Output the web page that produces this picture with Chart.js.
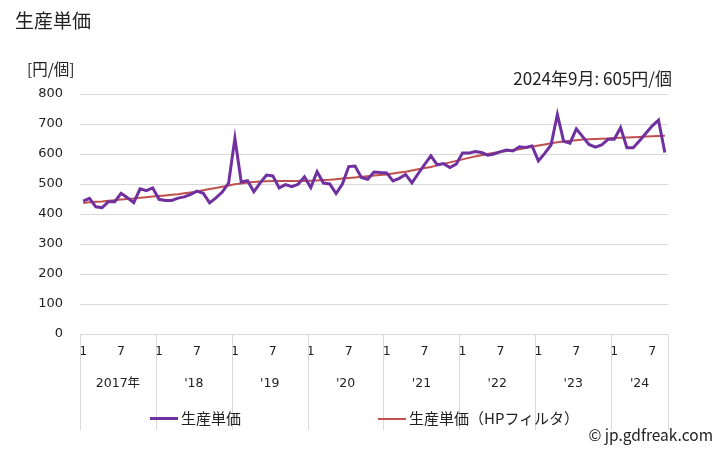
<!DOCTYPE html>
<html><head><meta charset="utf-8">
<script src="https://cdn.jsdelivr.net/npm/chart.js@4"></script>
<style>
body{margin:0;background:#fff;}
#wrap{position:relative;width:728px;height:450px;font-family:"Noto Sans CJK JP","Noto Sans",sans-serif;color:#222;}
canvas{position:absolute;left:0;top:0;}
.t{position:absolute;white-space:nowrap;line-height:1;}
.lg{position:absolute;height:3px;}
</style></head><body>
<div id="wrap">
<canvas id="c" width="728" height="450"></canvas>
<div class="t" style="left:15px;top:10px;font-size:19px;">生産単価</div>
<div class="t" style="left:27px;top:61px;font-size:15.5px;">[円/個]</div>
<div class="t" style="right:56px;top:69px;font-size:17px;">2024年9月: 605円/個</div>
<div class="lg" style="left:150px;top:417px;width:28px;background:#7030a0;"></div>
<div class="t" style="left:181px;top:410px;font-size:15px;">生産単価</div>
<div class="lg" style="left:378px;top:418px;width:28px;height:2px;background:#c0504d;"></div>
<div class="t" style="left:409px;top:410px;font-size:15px;">生産単価（HPフィルタ）</div>
<div class="t" style="right:15px;top:427px;font-size:15.5px;">© jp.gdfreak.com</div>
</div>
<script>
const yearLabels = ["2017年","'18","'19","'20","'21","'22","'23","'24"];
const monthLabels = [];
for (let y = 2017; y <= 2024; y++) {
  for (let m = 1; m <= 12; m++) {
    if (y === 2024 && m > 9) break;
    monthLabels.push(y + '/' + m);
  }
}
const unitPrice = [443,452,424,421,441,441,469,454,438,484,478,487,
  449,445,445,453,457,465,476,469,437,454,473,503,
  652,507,511,474,504,530,527,487,498,491,499,524,
  488,541,503,500,468,500,558,560,522,516,540,538,
  537,510,519,532,504,535,565,594,564,568,555,566,
  603,603,608,605,596,600,608,613,610,624,622,627,
  577,602,630,732,642,636,684,658,632,623,630,649,
  649,688,621,621,644,669,694,713,605];
const hpTrend = [437,439,441,442,444,446,448,450,452,454,456,458,
  460,462,464,466,469,472,475,479,483,487,491,495,
  499,502,505,507,508,509,510,510,510,510,510,510,
  511,512,513,514,516,518,520,522,524,526,528,530,
  532,535,538,541,545,549,553,557,562,567,572,577,
  582,587,592,596,600,604,607,610,613,616,620,624,
  628,632,636,639,642,644,646,648,649,650,651,652,
  653,654,655,656,657,658,659,660,661];
const yTicks = [0,100,200,300,400,500,600,700,800];

const FONT = '"Noto Sans CJK JP","Noto Sans",sans-serif';
const NUMFONT = '"DejaVu Sans","Noto Sans CJK JP",sans-serif';

const yearPlugin = {
  id: 'years',
  afterDraw(chart) {
    const xs = chart.scales.x, ca = chart.chartArea, ctx = chart.ctx;
    const n = monthLabels.length;
    const bounds = [ca.left];
    for (let i = 12; i < n; i += 12) {
      bounds.push((xs.getPixelForValue(i - 1) + xs.getPixelForValue(i)) / 2);
    }
    bounds.push(ca.right);
    ctx.save();
    ctx.strokeStyle = '#d9d9d9';
    ctx.lineWidth = 1;
    bounds.forEach(b => {
      const x = Math.round(b) + 0.5;
      ctx.beginPath(); ctx.moveTo(x, ca.bottom); ctx.lineTo(x, 430); ctx.stroke();
    });
    ctx.fillStyle = '#222';
    ctx.font = '12.5px ' + NUMFONT;
    ctx.textAlign = 'center';
    ctx.textBaseline = 'middle';
    yearLabels.forEach((t, k) => {
      ctx.fillText(t, (bounds[k] + bounds[k + 1]) / 2, 384);
    });
    ctx.restore();
  }
};

new Chart(document.getElementById('c'), {
  type: 'line',
  data: {
    labels: monthLabels,
    datasets: [
      { label: '生産単価', data: unitPrice, borderColor: '#7030a0', borderWidth: 3, pointRadius: 0, tension: 0, fill: false },
      { label: '生産単価（HPフィルタ）', data: hpTrend, borderColor: '#c0504d', borderWidth: 2, pointRadius: 0, tension: 0, fill: false }
    ]
  },
  options: {
    responsive: false, animation: false, devicePixelRatio: 1,
    layout: { padding: { top: 94, bottom: 20, left: 0, right: 60 } },
    plugins: { legend: { display: false }, tooltip: { enabled: false } },
    scales: {
      x: {
        offset: true,
        grid: { display: false, drawTicks: false },
        border: { display: false },
        afterFit: s => { s.height = 96; },
        ticks: {
          autoSkip: false, maxRotation: 0, minRotation: 0, padding: 10,
          color: '#222', font: { family: NUMFONT, size: 12.5 },
          callback: (v, i) => { const m = monthLabels[i].split('/')[1]; return (m === '1' || m === '7') ? m : ''; }
        }
      },
      y: {
        min: 0, max: 800,
        afterFit: s => { s.width = 80; },
        afterBuildTicks: s => { s.ticks = yTicks.map(v => ({ value: v })); },
        grid: { color: '#d9d9d9', drawTicks: false },
        border: { display: false },
        ticks: { padding: 17, color: '#222', font: { family: NUMFONT, size: 13 } }
      }
    }
  },
  plugins: [yearPlugin]
});
</script>
</body></html>
